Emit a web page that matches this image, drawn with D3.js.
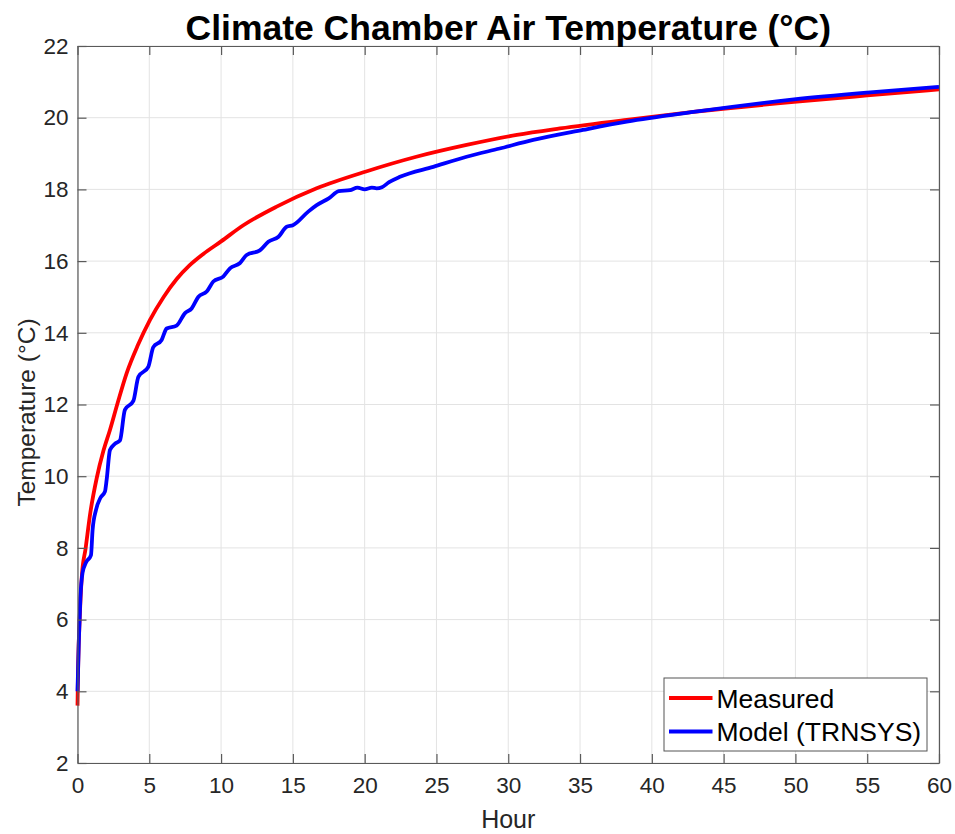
<!DOCTYPE html>
<html>
<head>
<meta charset="utf-8">
<script src="https://cdn.jsdelivr.net/npm/d3@7"></script>
<style>
  body { margin: 0; background: #fff; }
  svg { font-family: "Liberation Sans", Arial, sans-serif; }
</style>
</head>
<body>
<div id="chart"></div>
<script>
// measured air temperature, [hour, °C]
const measured = [
  [0, 3.6], [0.05, 4.8], [0.15, 6.0], [0.3, 7.2], [0.57, 8.0], [0.9, 9.0],
  [1.34, 9.95], [1.8, 10.7], [2.26, 11.29], [2.8, 12.05], [3.42, 12.87],
  [4.2, 13.65], [5.05, 14.36], [6.0, 15.0], [6.91, 15.5], [7.8, 15.88],
  [8.76, 16.2], [10.0, 16.55], [11.55, 17.0], [13.87, 17.52], [16.66, 18.03],
  [20.1, 18.5], [23.6, 18.91], [27.1, 19.24], [30.6, 19.52], [33.6, 19.7],
  [38.25, 19.94], [42.9, 20.16], [49.9, 20.44], [55, 20.62], [60, 20.79]
];

// TRNSYS model output, [hour, °C]
const model = [
  [0, 4.0], [0.1, 5.5], [0.2, 6.6], [0.35, 7.3], [0.6, 7.6], [0.94, 7.8],
  [1.05, 8.5], [1.29, 9.06], [1.6, 9.4], [1.91, 9.57], [2.03, 9.9],
  [2.26, 10.73], [2.6, 10.9], [2.96, 11.0], [3.3, 11.85], [3.89, 12.1],
  [4.24, 12.77], [4.93, 13.05], [5.28, 13.6], [5.86, 13.8], [6.21, 14.12],
  [6.9, 14.2], [7.49, 14.55], [7.95, 14.68], [8.41, 15.0], [9.0, 15.15],
  [9.46, 15.43], [10.15, 15.57], [10.62, 15.8], [11.3, 15.94], [11.78, 16.17],
  [12.7, 16.3], [13.29, 16.54], [14.0, 16.68], [14.57, 16.96], [15.0, 17.0],
  [16.07, 17.38], [16.66, 17.56], [17.5, 17.75], [18.2, 17.95], [18.98, 17.98],
  [19.5, 18.05], [20.0, 18.0], [20.5, 18.05], [20.83, 18.03], [21.2, 18.06],
  [21.7, 18.2], [22.46, 18.35], [24.78, 18.63], [27.1, 18.91], [29.4, 19.14],
  [31.74, 19.38], [35.2, 19.66], [38.25, 19.89], [42.9, 20.16], [49.9, 20.51],
  [55, 20.7], [60, 20.86]
];

const xTicks = d3.range(0, 61, 5);
const yTicks = d3.range(2, 23, 2);
const seriesNames = ['Measured', 'Model (TRNSYS)'];
const seriesColors = ['#ff0000', '#0000ff'];

const width = 955;
const height = 834;
const margin = {top: 46, right: 16, bottom: 71, left: 77.5};

const svg = d3.select('#chart').append('svg')
  .attr('width', width)
  .attr('height', height);

const x = d3.scaleLinear().domain([0, 60]).range([margin.left, width - margin.right]);
const y = d3.scaleLinear().domain([2, 22]).range([height - margin.bottom, margin.top]);

// grid
const grid = svg.append('g').attr('class', 'grid');
grid.selectAll('line.gx').data(xTicks).enter().append('line')
  .attr('x1', (d) => x(d)).attr('x2', (d) => x(d))
  .attr('y1', y(2)).attr('y2', y(22))
  .attr('stroke', '#e3e3e3').attr('stroke-width', 1);
grid.selectAll('line.gy').data(yTicks).enter().append('line')
  .attr('y1', (d) => y(d)).attr('y2', (d) => y(d))
  .attr('x1', x(0)).attr('x2', x(60))
  .attr('stroke', '#e3e3e3').attr('stroke-width', 1);

// lines
const line = d3.line()
  .x((d) => x(d[0]))
  .y((d) => y(d[1]))
  .curve(d3.curveMonotoneX);

[measured, model].forEach((data, i) => {
  svg.append('path')
    .datum(data)
    .attr('fill', 'none')
    .attr('stroke', seriesColors[i])
    .attr('stroke-width', 3.8)
    .attr('stroke-linejoin', 'round')
    .attr('d', line);
});

// axes (ticks pointing inward, box on)
const tickLen = 9;
const axisColor = '#5a5a5a';
const textColor = '#262626';

const axBottom = svg.append('g')
  .attr('transform', `translate(0,${y(2)})`)
  .call(d3.axisBottom(x).tickValues(xTicks).tickSizeInner(-tickLen).tickSizeOuter(0).tickPadding(14));
const axTop = svg.append('g')
  .attr('transform', `translate(0,${y(22)})`)
  .call(d3.axisTop(x).tickValues(xTicks).tickSizeInner(-tickLen).tickSizeOuter(0).tickFormat(''));
const axLeft = svg.append('g')
  .attr('transform', `translate(${x(0)},0)`)
  .call(d3.axisLeft(y).tickValues(yTicks).tickSizeInner(-tickLen).tickSizeOuter(0).tickPadding(9));
const axRight = svg.append('g')
  .attr('transform', `translate(${x(60)},0)`)
  .call(d3.axisRight(y).tickValues(yTicks).tickSizeInner(-tickLen).tickSizeOuter(0).tickFormat(''));

[axBottom, axTop, axLeft, axRight].forEach((g) => {
  g.attr('font-size', null).attr('font-family', null);
  g.select('.domain').attr('stroke', axisColor).attr('stroke-width', 1.2);
  g.selectAll('.tick line').attr('stroke', axisColor).attr('stroke-width', 1.2);
  g.selectAll('.tick text')
    .attr('fill', textColor)
    .attr('font-size', 22.5)
    .attr('font-family', '"Liberation Sans", Arial, sans-serif');
});

// titles
svg.append('text')
  .attr('x', (x(0) + x(60)) / 2)
  .attr('y', 40)
  .attr('text-anchor', 'middle')
  .attr('font-size', 35.5)
  .attr('font-weight', 'bold')
  .attr('fill', '#000')
  .text('Climate Chamber Air Temperature (°C)');

svg.append('text')
  .attr('x', (x(0) + x(60)) / 2)
  .attr('y', 828)
  .attr('text-anchor', 'middle')
  .attr('font-size', 25)
  .attr('fill', textColor)
  .text('Hour');

svg.append('text')
  .attr('transform', `translate(35,${(y(2) + y(22)) / 2 + 8}) rotate(-90)`)
  .attr('text-anchor', 'middle')
  .attr('font-size', 24.5)
  .attr('fill', textColor)
  .text('Temperature (°C)');

// legend
const legend = svg.append('g').attr('transform', 'translate(664,678)');
legend.append('rect')
  .attr('width', 263).attr('height', 73)
  .attr('fill', '#fff')
  .attr('stroke', '#555').attr('stroke-width', 1);

const items = legend.selectAll('g.item').data(seriesNames).enter().append('g')
  .attr('transform', (d, i) => `translate(0,${20 + i * 33.5})`);
items.append('line')
  .attr('x1', 5).attr('x2', 48.5)
  .attr('stroke', (d, i) => seriesColors[i])
  .attr('stroke-width', 3.8);
items.append('text')
  .attr('x', 52.5).attr('y', 9.5)
  .attr('font-size', 26.5)
  .attr('fill', '#000')
  .text((d) => d);
</script>
</body>
</html>
